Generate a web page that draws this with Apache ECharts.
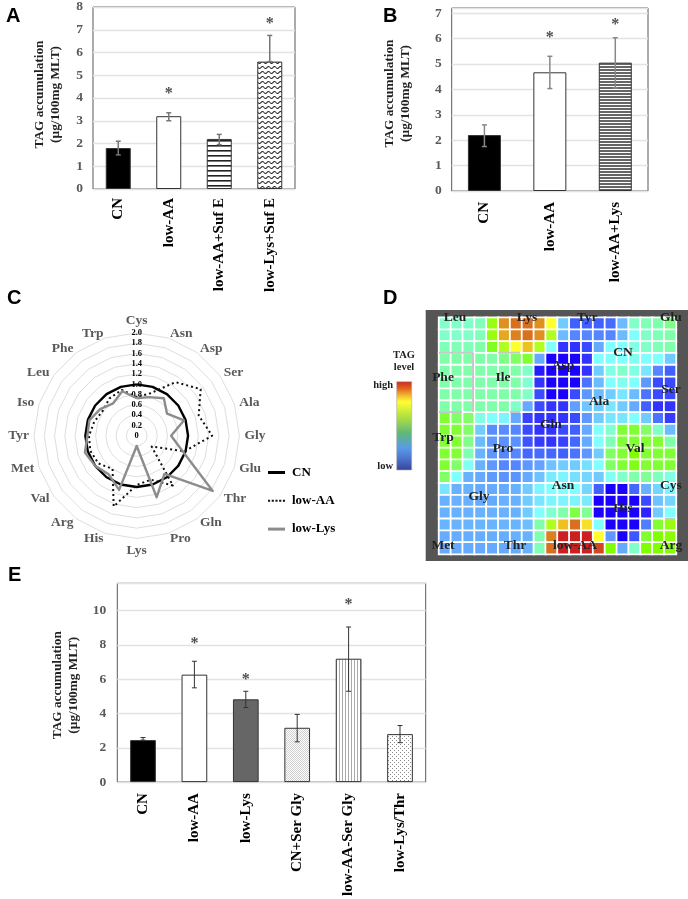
<!DOCTYPE html>
<html><head><meta charset="utf-8">
<style>html,body{margin:0;padding:0;background:#fff}#c{width:688px;height:899px}</style>
<script src="https://cdn.jsdelivr.net/npm/echarts@6/dist/echarts.min.js"></script>
</head><body><div id="c"></div>
<script>
// ---- Panel A ----
const catA = ['CN','low-AA','low-AA+Suf E','low-Lys+Suf E'];
const valA = [1.8,3.2,2.2,5.6];
const lowA = [1.5,3.0,1.95,5.6];
const highA = [2.1,3.35,2.4,6.75];
const starA = [null,4.3,null,7.4];
// ---- Panel B ----
const catB = ['CN','low-AA','low-AA+Lys'];
const valB = [2.2,4.67,5.05];
const lowB = [1.75,4.03,4.05];
const highB = [2.6,5.3,6.03];
const starB = [null,6.14,6.65];
// ---- Panel E ----
const catE = ['CN','low-AA','low-Lys','CN+Ser Gly','low-AA-Ser Gly','low-Lys/Thr'];
const valE = [2.45,6.27,4.83,3.17,7.2,2.8];
const lowE = [2.45,5.5,4.35,2.35,5.3,2.3];
const highE = [2.6,7.05,5.3,3.95,9.05,3.3];
const starE = [null,8.25,6.16,null,10.5,null];
// ---- Panel C ----
const acids = ['Cys','Asn','Asp','Ser','Ala','Gly','Glu','Thr','Gln','Pro','Lys','His','Arg','Val','Met','Tyr','Iso','Leu','Phe','Trp'];
const radarCN = [1,1,1,1,1,1,1,1,1,1,1,1,1,1,1,1,1,1,1,1];
const radarLowAA = [.75,.87,1.29,1.54,1.27,1.47,.98,.36,1.2,.9,.96,1.45,.8,.92,.95,.93,.87,.82,.9,.94];
const radarLowLys = [.73,.79,.9,.73,.97,.67,.93,1.83,.92,1.26,.2,1.11,.93,1,1.06,.96,.97,.88,.78,.91];
// ---- Panel D (colour level of each cell) ----
const heat00 = [7,7,7,7.5,10.5,14,15,15,14,12,5,2,2,2,2.3,4.5,7,7.6,8,8.5];
const heat01 = [7,7,7,7.5,10.5,13.5,14.5,15,14,11,4.5,3,3,3,3,4.5,6,7,7.5,8];
const heat02 = [7.5,7.5,7.5,8,9.7,11,12,13,11,6,1,1,1.5,4,6,6,6.5,7,7.5,8];
const heat03 = [8,8,8,8,8,8.5,9,9.5,4,0,0,0,1,6,6,6,6.3,6,6,5];
const heat04 = [8,8,8,8,8,8,8,7,.5,0,0,0,1,5,6.5,7,6.5,5.5,3,2];
const heat05 = [8,8,8,8,8,8,8,6.8,1,0,0,0,2.5,4.5,6,6.3,6,3.5,1.5,1.5];
const heat06 = [8,8,8,8,8,8,8,7,1.5,0,0,1.5,3.5,4.5,5,5.5,4.5,2.5,1.5,1.5];
const heat07 = [8,8,8,8,8,8,7,4,1.5,1,1,3.7,4.8,5,5.5,5,4,2,1,1];
const heat08 = [9.5,9,9,6.5,6,5.8,4,1.3,1,1,1,1.5,3.5,5,5.5,5.5,6,5,2.5,1.2];
const heat09 = [9.5,9.5,9,5,3.2,3.2,3,1.5,1,1,1.5,2,4,6,6.8,9.5,9.5,9,7,4.5];
const heat10 = [9.5,9.5,8.5,4.5,3.5,3.3,3.3,1.7,1.2,1,1.3,2.2,4,6,7.5,9.5,9.5,9.5,9.5,8];
const heat11 = [9.5,9.5,7.8,4.3,3.5,3,3,2.2,2.3,2.2,2,2.5,3.5,5,9,9.5,10,9.5,9.5,9.5];
const heat12 = [9.5,9,6.2,4.2,3.5,3,3,3.5,3.8,4.7,5,5,5.4,6,9,9.5,9.8,9.5,9.5,9.5];
const heat13 = [9,6,4.2,4,3.6,3.4,3.4,4,4.7,5.6,5.8,5.4,5.2,5,6.2,7,8,8.3,7.3,6.5];
const heat14 = [5.5,4.2,4.2,4,4,4,4.2,5,5.8,6,6,6,5.2,2,0,0,2.2,4.2,5.2,5.8];
const heat15 = [4.2,4.2,4.2,4,4,4.2,4.2,5,5.5,5.8,5.8,5.8,5.6,0,0,0,0,1.5,4.7,5.2];
const heat16 = [4.2,4.2,4.2,4.2,4.2,4.2,4.2,5,6,6.8,8,9.3,8.3,0,0,0,0,.7,5,6];
const heat17 = [4.3,4.3,4.3,4.3,4.3,4.3,4.3,4.6,8,11,13,15,12.5,6,0,0,0,2.8,9.5,10.5];
const heat18 = [4.1,4.1,4.1,4.1,4.1,4.1,4.2,4.2,7.8,14.5,16,16,16,12,3.5,0,1.8,9.5,10,10.2];
const heat19 = [4,4,4,4,4,4,4,4.2,7.5,15,16,16,16,15.5,10,4,7,10,10,10];
const heatRows = [heat00,heat01,heat02,heat03,heat04,heat05,heat06,heat07,heat08,heat09,heat10,heat11,heat12,heat13,heat14,heat15,heat16,heat17,heat18,heat19];
const heatPalette = ['#1a00ff','#3333ff','#4060ff','#5585ff','#66aaff','#70ccff','#80ffff','#80ffc8','#80ffaa','#80ff66','#80ff00','#b0ff20','#ffff30','#eec020','#e09020','#d87020','#cc2020'];

const serif = '"Liberation Serif"';
const gray = '#595959';

function pat(w,h,draw){const c=document.createElement('canvas');c.width=w;c.height=h;const g=c.getContext('2d');g.fillStyle='#fff';g.fillRect(0,0,w,h);draw(g);return {image:c,repeat:'repeat'};}
const hLines = pat(1,5,g=>{g.fillStyle='#222';g.fillRect(0,0,1,1.6);});
const waves = pat(6,5,g=>{g.strokeStyle='#222';g.lineWidth=1.1;g.beginPath();g.moveTo(0,2.5);g.quadraticCurveTo(1.5,4.6,3,2.5);g.quadraticCurveTo(4.5,0.4,6,2.5);g.stroke();});
const hDense = pat(1,3,g=>{g.fillStyle='#666';g.fillRect(0,0,1,2);});
const fine = pat(2,2,g=>{g.fillStyle='#cfcfcf';g.fillRect(0,0,1,1);g.fillRect(1,1,1,1);});
const vLines = pat(3,1,g=>{g.fillStyle='#aaa';g.fillRect(0,0,1,1);});
const dots = pat(4,4,g=>{g.fillStyle='#888';g.fillRect(0,0,1,1);g.fillRect(2,2,1,1);});
const fillA = ['#000','#fff',hLines,waves];
const fillB = ['#000','#fff',hDense];
const fillE = ['#000','#fff','#666',fine,vLines,dots];

const grids=[], xs=[], ys=[], series=[];
function panel(box,cats,vals,lows,highs,stars,fills,barW,o){
  const k=grids.length;
  grids.push({left:box[0],top:box[1],width:box[2],height:box[3],show:true,borderColor:'#595959',borderWidth:1,backgroundColor:'#fff'});
  xs.push({gridIndex:k,type:'category',data:cats,axisLine:{show:false},axisTick:{show:false},splitLine:{show:false},
    axisLabel:{rotate:90,interval:0,margin:o.catMargin,color:'#000',fontFamily:serif,fontWeight:'bold',fontSize:o.catSize}});
  ys.push({gridIndex:k,type:'value',min:0,max:o.max,interval:o.step,axisLine:{show:false},axisTick:{show:false},
    splitLine:{lineStyle:{color:'#e3e3e3',width:1.3}},
    axisLabel:{margin:o.tickMargin,color:gray,fontFamily:serif,fontWeight:'bold',fontSize:o.tickSize,showMaxLabel:o.showMax},
    name:'TAG accumulation\n(µg/100mg MLT)',nameLocation:'middle',nameGap:o.nameGap,nameRotate:90,
    nameTextStyle:{color:'#222',fontFamily:serif,fontWeight:'bold',fontSize:13.3,lineHeight:16,padding:o.namePad||0}});
  series.push({type:'bar',xAxisIndex:k,yAxisIndex:k,barWidth:barW,z:3,silent:true,
    data:vals.map((v,i)=>({value:v,itemStyle:{color:fills[i],borderColor:'#333',borderWidth:1}}))});
  series.push({type:'custom',xAxisIndex:k,yAxisIndex:k,z:4,silent:true,
    data:vals.map((v,i)=>[i,lows[i],highs[i]]),encode:{x:0,y:[1,2]},
    renderItem(p,api){const a=api.coord([api.value(0),api.value(1)]),b=api.coord([api.value(0),api.value(2)]),c=o.cap;
      const st={stroke:o.errColor,lineWidth:o.errW,fill:null};
      return {type:'group',children:[
        {type:'line',shape:{x1:a[0],y1:a[1],x2:b[0],y2:b[1]},style:st},
        {type:'line',shape:{x1:a[0]-c,y1:a[1],x2:a[0]+c,y2:a[1]},style:st},
        {type:'line',shape:{x1:a[0]-c,y1:b[1],x2:a[0]+c,y2:b[1]},style:st}]};}});
  series.push({type:'scatter',xAxisIndex:k,yAxisIndex:k,z:5,silent:true,symbolSize:1,itemStyle:{color:'rgba(0,0,0,0)'},
    data:stars.map((v,i)=>v==null?null:[i,v]).filter(Boolean),
    label:{show:true,formatter:'*',position:'inside',offset:[0,3],color:'#222',fontFamily:serif,fontWeight:'bold',fontSize:16}});
}
panel([93,4.2,202,184.8],catA,valA,lowA,highA,starA,fillA,25,{max:8,step:1,catMargin:9,catSize:15,tickMargin:10,tickSize:13.5,showMax:true,nameGap:29,namePad:[0,0,0,7],cap:2.5,errColor:'#777',errW:1.5});
panel([451.7,8,196.3,183],catB,valB,lowB,highB,starB,fillB,33,{max:7.2,step:1,catMargin:11,catSize:15,tickMargin:10,tickSize:13.5,showMax:false,nameGap:38.5,namePad:[0,0,0,12],cap:2.5,errColor:'#888',errW:1.5});
panel([117.3,583.3,308.4,199.4],catE,valE,lowE,highE,starE,fillE,25.7,{max:11.6,step:2,catMargin:11,catSize:15,tickMargin:11,tickSize:13.5,showMax:false,nameGap:36,namePad:[0,5,0,0],cap:2.5,errColor:'#333',errW:1});

// Heat map
const hk=grids.length;
grids.push({left:439,top:317.7,width:237,height:236.5,show:true,backgroundColor:'#fff',borderWidth:0});
xs.push({gridIndex:hk,type:'category',show:false,data:heat00.map((_,i)=>i)});
ys.push({gridIndex:hk,type:'category',show:false,inverse:true,data:heatRows.map((_,i)=>i)});
const heatData=[];heatRows.forEach((r,y)=>r.forEach((v,x)=>heatData.push([x,y,v])));
series.push({type:'heatmap',xAxisIndex:hk,yAxisIndex:hk,data:heatData,silent:true,itemStyle:{borderColor:'#fff',borderWidth:1.8},z:2});

// Radar
const ccw=a=>[a[0],...a.slice(1).reverse()];
const indicators=ccw(acids).map((n,i)=>({name:n,min:0,max:2,axisLabel:i===0?{show:true,formatter:v=>v===0?'0':v.toFixed(1),align:'center',margin:0,color:'#000',fontFamily:serif,fontWeight:'bold',fontSize:8.5,showMaxLabel:true,showMinLabel:true}:{show:false}}));
const radar={center:[136.7,435.7],radius:102.7,startAngle:90,splitNumber:10,shape:'polygon',indicator:indicators,nameGap:5,
  axisName:{color:gray,fontFamily:serif,fontWeight:'bold',fontSize:13.5},
  axisLine:{show:false},axisTick:{show:false},splitArea:{show:false},splitLine:{lineStyle:{color:'#dedede',width:1}}};
function rs(name,vals,col,w,type,z){series.push({type:'radar',radarIndex:0,name,symbol:'none',z,silent:true,data:[{name,value:ccw(vals),lineStyle:{color:col,width:w,type},itemStyle:{color:col}}]});}
rs('CN',radarCN,'#000',2.4,'solid',3);
rs('low-AA',radarLowAA,'#111',2,[2,3],4);
rs('low-Lys',radarLowLys,'#8c8c8c',2.4,'solid',5);

const txt=(x,y,t,s,f,w,c,a)=>({type:'text',x,y,z:20,silent:true,style:{text:t,fontFamily:f,fontSize:s,fontWeight:w,fill:c,align:a||'center',verticalAlign:'middle'}});
const sans='"Liberation Sans"';
const letters=[[6,16,'A'],[383,16,'B'],[7,298,'C'],[383,298,'D'],[8,575,'E']].map(l=>txt(l[0],l[1],l[2],20,sans,'bold','#000','left'));
const cellLabels=[['Leu',455,318],['Lys',527,318],['Tyr',587,318],['Glu',671,318],['CN',623,353],['Phe',443,378],['Ile',503,378],['Asp',563,366],['Ser',671,390],['Ala',599,402],['Gln',551,425],['Trp',443,438],['Pro',503,449],['Val',635,449],['Asn',563,486],['Cys',671,486],['Gly',479,497],['His',623,509],['Met',443,546],['Thr',515,546],['low-AA',575,546],['Arg',671,546]]
  .map(l=>txt(l[1],l[2],l[0],13.5,serif,'bold','#222'));
const seg=(x1,y1,x2,y2)=>({type:'line',z:15,silent:true,shape:{x1,y1,x2,y2},style:{stroke:'#c8c8c8',lineWidth:2}});
const graySegs=[seg(439,352.7,473,352.7),seg(473,352.7,473,412),seg(439,412,462,412),seg(498,352.7,520,352.7),seg(510,412,520,412),seg(665,519,675,519)];
const graphic=[
  {type:'rect',z:-5,silent:true,shape:{x:425.7,y:310,width:262.3,height:251},style:{fill:'#555'}},
  {type:'rect',z:-4,silent:true,shape:{x:439,y:317.7,width:237,height:236.5},style:{fill:'#fff'}},
  {type:'rect',z:5,silent:true,shape:{x:396.7,y:381.7,width:15,height:88.3},style:{fill:new echarts.graphic.LinearGradient(0,0,0,1,[
    {offset:0,color:'#c8281e'},{offset:.08,color:'#e0641f'},{offset:.15,color:'#f0b030'},{offset:.23,color:'#ffff30'},{offset:.4,color:'#b0e040'},{offset:.58,color:'#5fb878'},{offset:.75,color:'#5a9ae8'},{offset:.88,color:'#4a70c8'},{offset:1,color:'#34459a'}]),stroke:'#aaa',lineWidth:.6}},
  txt(404,355.7,'TAG',10.5,serif,'bold','#222'),txt(404,367.7,'level',10.5,serif,'bold','#222'),
  txt(393,385,'high',10.5,serif,'bold','#222','right'),txt(393,466,'low',10.5,serif,'bold','#222','right'),
  ...letters,...cellLabels,...graySegs];

const dotted='path://M0 0h4v4h-4zM7 0h4v4h-4zM14 0h4v4h-4zM21 0h4v4h-4zM28 0h4v4h-4z';
const chart=echarts.init(document.getElementById('c'),null,{renderer:'canvas'});
chart.setOption({animation:false,backgroundColor:'#fff',grid:grids,xAxis:xs,yAxis:ys,radar,series,graphic,
  visualMap:{show:false,type:'continuous',seriesIndex:series.findIndex(s=>s.type==='heatmap'),min:0,max:16,inRange:{color:heatPalette}},
  legend:{orient:'vertical',left:263,top:460.5,padding:5,itemWidth:17,itemHeight:3,itemGap:14.3,selectedMode:false,
    textStyle:{color:'#000',fontFamily:serif,fontWeight:'bold',fontSize:13,height:14,lineHeight:14,padding:[0,0,0,2]},
    data:[{name:'CN',icon:'rect',itemStyle:{color:'#000'}},{name:'low-AA',icon:dotted,itemStyle:{color:'#111'}},{name:'low-Lys',icon:'rect',itemStyle:{color:'#8c8c8c'}}]}
});
</script></body></html>
